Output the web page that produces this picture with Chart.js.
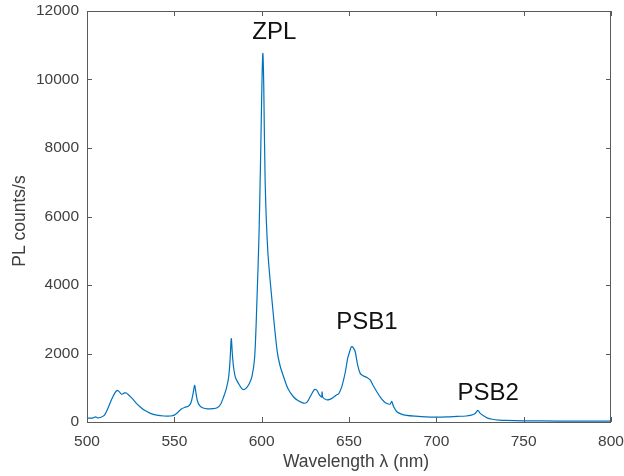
<!DOCTYPE html>
<html>
<head>
<meta charset="utf-8">
<script src="https://cdn.jsdelivr.net/npm/chart.js@4"></script>
<style>
    html, body { margin: 0; padding: 0; background: #fff; }
    #wrap { width: 624px; height: 476px; }
</style>
</head>
<body>
<div id="wrap"><canvas id="plChart" width="624" height="476"></canvas></div>
<script>
// values
const wavelength = [
    500, 503, 505, 506, 508, 510, 512, 514, 516, 517.3, 518.5, 520, 521.5, 522.5, 524, 526, 528, 530.5,
    533, 536, 540, 544, 548, 550, 552, 554, 556, 558.2, 559.5, 560.8, 561.6, 562.3, 563.2, 564.5, 566.5,
    569, 572, 574.5, 576.5, 578.2, 579.8, 581.1, 581.9, 582.6, 583.2, 583.9, 585, 586.8, 588.5, 589.6,
    591, 592.8, 594.4, 596, 597.3, 598.5, 599.5, 600.2, 600.7, 601.2, 602, 603.5, 605.9, 608.8, 610.5,
    612.6, 615, 618.3, 621, 624, 626, 628, 630.2, 631.5, 633, 634.3, 634.6, 635, 637, 639, 641, 642.8,
    644, 645, 646, 647.9, 649.2, 650.3, 651.2, 651.8, 652.7, 653.6, 655, 656.4, 658, 660.3, 662.2, 664,
    666, 668, 670, 671.7, 673.5, 674.5, 675.5, 677.4, 680, 683, 688, 694, 700, 706, 712, 717, 720, 722,
    723.8, 725, 727, 729, 732, 736, 740, 750, 760, 780, 800
];
const plCounts = [
    110, 115, 150, 120, 140, 200, 400, 650, 850, 925, 880, 810, 850, 845, 780, 680, 560, 440,
    340, 260, 200, 175, 175, 200, 280, 380, 430, 470, 560, 850, 1070, 880, 620, 480, 410,
    385, 390, 415, 520, 730, 980, 1314, 1800, 2435, 2000, 1606, 1300, 1120, 980, 945,
    980, 1110, 1314, 1900, 3560, 5500, 8000, 10000, 10765, 9800, 7000, 5000, 3560, 2093, 1650,
    1314, 980, 730, 620, 550, 580, 760, 950, 930, 800, 730, 880, 720, 650, 660, 720, 790,
    820, 920, 1050, 1460, 1850, 2044, 2180, 2200, 2150, 2044, 1650, 1420, 1350, 1300, 1220, 1050,
    876, 720, 600, 540, 520, 600, 450, 300, 230, 195, 170, 150, 145, 150, 165, 175, 200, 240,
    340, 260, 180, 120, 80, 55, 45, 35, 30, 25, 25
];
const xTicks = [500, 550, 600, 650, 700, 750, 800];
const yTicks = [0, 2000, 4000, 6000, 8000, 10000, 12000];
const peakLabels = ["ZPL", "PSB1", "PSB2"];
const peakLabelX = [607.2, 660.3, 729.7];
const peakLabelY = [11380, 2920, 830];

const LINE_COLOR = "#0072BD";
const AXIS_COLOR = "#5a5a5a";
const TEXT_COLOR = "#404040";
const FONT = "'Liberation Sans', Arial, sans-serif";

const points = wavelength.map((w, i) => ({x: w, y: plCounts[i]}));

// box, inward ticks, axis titles and peak labels
const frame = {
    id: "frame",
    afterDraw(chart) {
        const ctx = chart.ctx;
        const xs = chart.scales.x;
        const ys = chart.scales.y;
        const a = chart.chartArea;
        const tl = 5;

        ctx.save();
        ctx.strokeStyle = AXIS_COLOR;
        ctx.lineWidth = 1;
        ctx.strokeRect(a.left + 0.5, a.top + 0.5, a.right - a.left - 1, a.bottom - a.top);

        ctx.beginPath();
        xTicks.forEach(v => {
            let px = Math.round(xs.getPixelForValue(v)) + 0.5;
            ctx.moveTo(px, a.bottom);
            ctx.lineTo(px, a.bottom - tl);
            ctx.moveTo(px, a.top);
            ctx.lineTo(px, a.top + tl);
        });
        yTicks.forEach(v => {
            let py = Math.round(ys.getPixelForValue(v)) + 0.5;
            ctx.moveTo(a.left, py);
            ctx.lineTo(a.left + tl, py);
            ctx.moveTo(a.right, py);
            ctx.lineTo(a.right - tl, py);
        });
        ctx.stroke();

        ctx.fillStyle = TEXT_COLOR;
        ctx.font = "17.5px " + FONT;
        ctx.textAlign = "center";
        ctx.textBaseline = "middle";
        ctx.fillText("Wavelength \u03bb (nm)", 356, 462);

        ctx.translate(20, 221);
        ctx.rotate(-Math.PI / 2);
        ctx.fillText("PL counts/s", 0, 0);
        ctx.restore();

        ctx.save();
        ctx.fillStyle = "#111";
        ctx.font = "24px " + FONT;
        ctx.textAlign = "center";
        ctx.textBaseline = "middle";
        for (let i = 0; i < peakLabels.length; i++) {
            ctx.fillText(peakLabels[i], xs.getPixelForValue(peakLabelX[i]), ys.getPixelForValue(peakLabelY[i]));
        }
        ctx.restore();
    }
};

new Chart(document.getElementById("plChart"), {
    type: "line",
    data: {
        datasets: [{
            data: points,
            borderColor: LINE_COLOR,
            borderWidth: 1.2,
            pointRadius: 0,
            tension: 0.3,
            fill: false
        }]
    },
    options: {
        responsive: false,
        animation: false,
        layout: {padding: {top: 11, right: 13, left: 0, bottom: 0}},
        plugins: {legend: {display: false}, tooltip: {enabled: false}},
        scales: {
            x: {
                type: "linear",
                min: 500,
                max: 800,
                afterBuildTicks: s => { s.ticks = xTicks.map(v => ({value: v})); },
                afterFit: s => {
                    s.height = 54;
                    s.paddingLeft = 0;
                    s.paddingRight = 0;
                },
                grid: {display: false, drawTicks: false},
                border: {display: false},
                ticks: {
                    padding: 10,
                    color: TEXT_COLOR,
                    font: {family: FONT, size: 15.5},
                    callback: v => String(v)
                }
            },
            y: {
                min: 0,
                max: 12000,
                afterBuildTicks: s => { s.ticks = yTicks.map(v => ({value: v})); },
                afterFit: s => {
                    s.width = 87;
                    s.paddingTop = 0;
                    s.paddingBottom = 0;
                },
                grid: {display: false, drawTicks: false},
                border: {display: false},
                ticks: {
                    padding: 8,
                    color: TEXT_COLOR,
                    font: {family: FONT, size: 15.5},
                    callback: v => String(v)
                }
            }
        }
    },
    plugins: [frame]
});
</script>
</body>
</html>
